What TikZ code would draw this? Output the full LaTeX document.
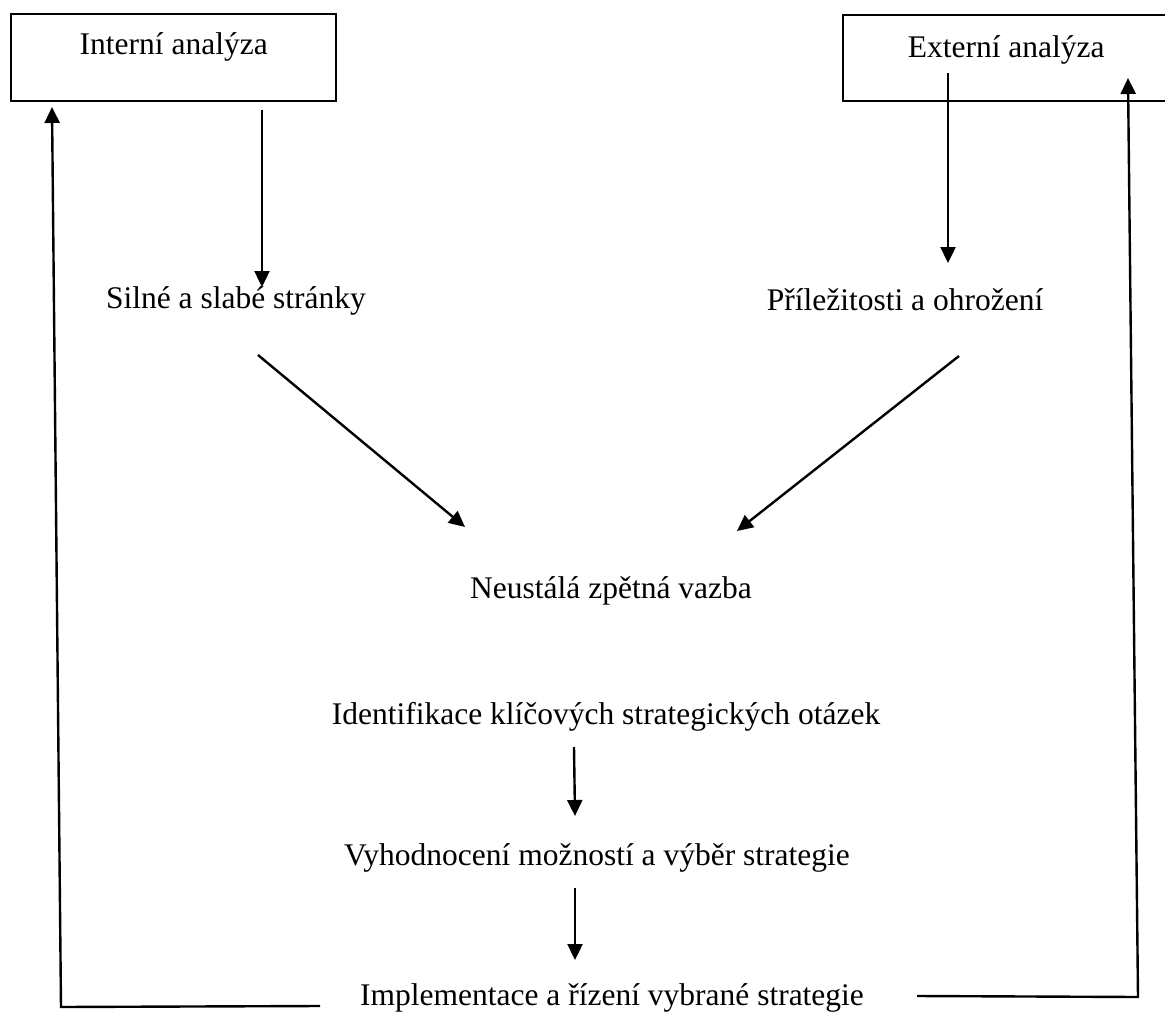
\documentclass[tikz,border=0pt]{standalone}
\usepackage{fontspec}
\setmainfont{Liberation Serif}
\usetikzlibrary{arrows.meta}
\begin{document}
\begin{tikzpicture}[x=1pt,y=-1pt,
  every node/.style={font=\fontsize{31.5}{38}\selectfont, inner sep=0pt},
  txt/.style={anchor=base},
  boxnode/.style={draw, line width=2.4pt, anchor=north west, inner xsep=0pt, inner ysep=0pt},
  arr/.style={line width=2.4pt, -{Triangle[length=16pt,width=15pt]}}]
\useasboundingbox (0,0) rectangle (1165,1014);
\clip (0,0) rectangle (1165,1014);
\fill[white] (0,0) rectangle (1165,1014);
% boxes
\node[boxnode, minimum width=325pt, text height=40pt, text depth=47pt] (int) at (10,13) {Interní analýza};
\node[boxnode, minimum width=326pt, text height=42pt, text depth=44pt] (ext) at (842,14) {Externí analýza};
% texts
\node[txt] (sil) at (236,308) {Silné a slabé stránky};
\node[txt] (pri) at (905,310) {Příležitosti a ohrožení};
\node[txt] (neu) at (611,598) {Neustálá zpětná vazba};
\node[txt] (ide) at (606,724) {Identifikace klíčových strategických otázek};
\node[txt] (vyh) at (597,865) {Vyhodnocení možností a výběr strategie};
\node[txt] (imp) at (612,1005) {Implementace a řízení vybrané strategie};
% connector end points
\coordinate (a1s) at (262,110);  \coordinate (a1e) at (262,287);
\coordinate (a2s) at (948,73);   \coordinate (a2e) at (948,263);
\coordinate (a3s) at (258,355);  \coordinate (a3e) at (465,527);
\coordinate (a4s) at (959,356);  \coordinate (a4e) at (737,531);
\coordinate (a5s) at (574,747);  \coordinate (a5e) at (575,816);
\coordinate (a6s) at (575,888);  \coordinate (a6e) at (575,960);
\coordinate (fl1) at (320,1006); \coordinate (fl2) at (61,1007); \coordinate (fl3) at (52,107);
\coordinate (fr1) at (917,996);  \coordinate (fr2) at (1138,997); \coordinate (fr3) at (1128,78);
% arrows
\draw[arr] (a1s) -- (a1e);
\draw[arr] (a2s) -- (a2e);
\draw[arr] (a3s) -- (a3e);
\draw[arr] (a4s) -- (a4e);
\draw[arr] (a5s) -- (a5e);
\draw[arr] (a6s) -- (a6e);
\draw[arr] (fl1) -- (fl2) -- (fl3);
\draw[arr] (fr1) -- (fr2) -- (fr3);
\end{tikzpicture}
\end{document}
